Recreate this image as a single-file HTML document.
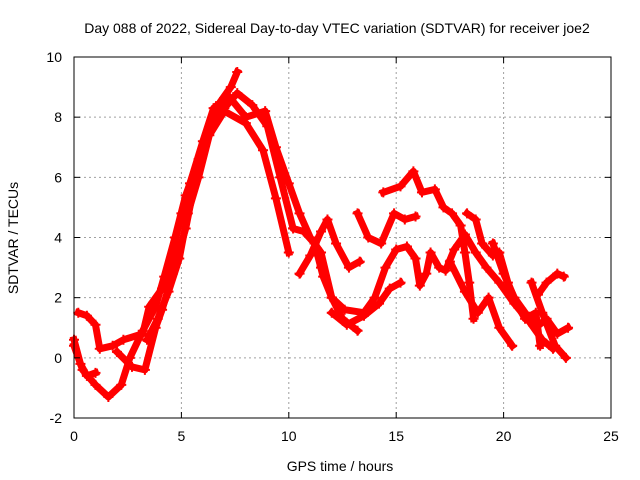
<!DOCTYPE html>
<html><head><meta charset="utf-8"><style>
body{margin:0;background:#fff;}
svg{display:block;font-family:"Liberation Sans",sans-serif;}
</style></head><body>
<svg id="chart" width="640" height="480">
<text x="337" y="33" font-size="14" text-anchor="middle">Day 088 of 2022, Sidereal Day-to-day VTEC variation (SDTVAR) for receiver joe2</text>
<text x="340" y="471" font-size="14" text-anchor="middle">GPS time / hours</text>
<text transform="translate(18,238) rotate(-90)" font-size="14" text-anchor="middle">SDTVAR / TECUs</text>
<g id="grid"></g><g id="series"></g><g id="axes"></g>
</svg>
<script>
const xTicks=[0,5,10,15,20,25];
const yTicks=[-2,0,2,4,6,8,10];
const trackA=[[0,0.4],[0.4,-0.4],[1,-0.9],[1.6,-1.3],[2.2,-0.9],[2.6,0],[3.2,0.9],[3.8,1.7],[4.2,2.7],[4.7,4.0],[5.2,5.4],[5.8,6.6],[6.3,7.6],[6.8,8.5],[7.3,9.0],[7.6,9.5]];
const trackB=[[0.2,1.5],[0.6,1.4],[1.0,1.1],[1.2,0.3],[1.8,0.4],[2.3,0.6],[3.2,0.8],[3.5,1.7],[4.1,2.3],[4.5,3.2],[5.0,4.8],[5.4,5.8],[6,7.2],[6.5,8.3],[7.2,8.7],[8,8.0],[8.9,8.2],[9.4,7.0],[10,5.8],[10.5,4.8],[11,4.0],[11.5,3.5],[12,2.0],[12.5,1.3],[13.2,0.9]];
const trackC=[[2.0,0.2],[2.7,-0.3],[3.3,-0.4],[3.8,1.0],[4.1,1.6],[4.6,2.8],[5.2,4.3],[5.7,6.1],[6.3,7.6],[7,8.3],[7.6,8.8],[8.3,8.4],[9,7.7],[9.6,6.0],[10.2,4.3],[10.7,4.2],[11.2,3.8],[11.6,2.7],[12,2.0]];
const trackD=[[3.4,0.6],[3.9,1.3],[4.4,2.2],[4.9,3.3],[5.3,4.8],[5.8,6.0],[6.3,7.4],[7,8.2],[8,7.8],[8.8,6.9],[9.4,5.3],[10,3.5]];
const trackE=[[0,0.6],[0.3,-0.2],[0.6,-0.6],[1.0,-0.5]];
const trackF=[[10.5,2.8],[11,3.4],[11.5,4.2],[11.8,4.6],[12.2,3.8],[12.8,3.0],[13.3,3.2]];
const trackG=[[14.4,5.5],[15.2,5.7],[15.8,6.2],[16.2,5.5],[16.8,5.6],[17.2,5.0],[17.6,4.8],[18.0,4.4],[18.2,3.5],[18.4,2.5],[18.6,1.3]];
const trackH=[[13.2,4.8],[13.7,4.0],[14.3,3.8],[14.9,4.8],[15.4,4.6],[15.9,4.7]];
const trackI=[[11.5,3.0],[12,2.0],[12.6,1.6],[13.5,1.5],[14,2.0],[14.5,3.0],[15,3.6],[15.5,3.7],[15.9,3.3],[16.1,2.4],[16.4,2.8],[16.6,3.5],[17,3.0],[17.3,2.9],[17.7,3.6],[18.2,4.1],[18.7,3.5],[19.2,3.0],[19.8,2.5],[20.5,1.8],[21.2,1.2],[21.8,0.6],[22.3,0.3]];
const trackJ=[[12,1.5],[12.7,1.1],[13.5,1.4],[14.2,1.8],[14.7,2.3],[15.2,2.5]];
const trackK=[[18.3,4.8],[18.7,4.6],[19.0,3.8],[19.5,3.4],[19.8,3.5],[20.2,2.5],[20.6,1.8],[21,1.3],[21.5,1.5],[21.7,0.4]];
const trackL=[[21.6,2.1],[22,2.5],[22.5,2.8],[22.8,2.7]];
const trackM=[[19.5,3.8],[20,2.8],[20.5,2.0],[21,1.5],[21.5,1.0],[22,1.3],[22.5,0.8],[23,1.0]];
const trackN=[[17.5,3.2],[18.2,2.2],[18.8,1.5],[19.3,2.0],[19.8,1.0],[20.4,0.4]];
const trackO=[[21.3,2.5],[21.8,1.5],[22.4,0.4],[22.9,0.0]];
const tracks=[trackA,trackB,trackC,trackD,trackE,trackF,trackG,trackH,trackI,trackJ,trackK,trackL,trackM,trackN,trackO];
const X0=74,X1=611,Y0=418,Y1=57;
const xs=v=>X0+(v-0)/25*(X1-X0);
const ys=v=>Y0-(v+2)/12*(Y0-Y1);
const NS="http://www.w3.org/2000/svg";
const grid=document.getElementById('grid'),axes=document.getElementById('axes'),ser=document.getElementById('series');
function mk(tag,at,parent){const e=document.createElementNS(NS,tag);for(const k in at)e.setAttribute(k,at[k]);parent.appendChild(e);return e;}
xTicks.forEach(t=>{
  if(t>0&&t<25){const g=mk('line',{x1:xs(t),x2:xs(t),y1:Y1,y2:Y0,stroke:'#a0a0a0','stroke-dasharray':'2,3'},grid);
  
  }
  const l=mk('text',{x:xs(t),y:Y0+23,'font-size':14,'text-anchor':'middle'},axes);l.textContent=t;
  
  
  mk('line',{x1:xs(t),x2:xs(t),y1:Y0,y2:Y0-6,stroke:'#000'},axes);
  mk('line',{x1:xs(t),x2:xs(t),y1:Y1,y2:Y1+6,stroke:'#000'},axes);
});
yTicks.forEach(t=>{
  if(t>-2&&t<10){const g=mk('line',{x1:X0,x2:X1,y1:ys(t),y2:ys(t),stroke:'#a0a0a0','stroke-dasharray':'2,3'},grid);
  
  }
  const l=mk('text',{x:X0-12,y:ys(t)+5,'font-size':14,'text-anchor':'end'},axes);l.textContent=t;
  
  
  mk('line',{x1:X0,x2:X0+6,y1:ys(t),y2:ys(t),stroke:'#000'},axes);
  mk('line',{x1:X1,x2:X1-6,y1:ys(t),y2:ys(t),stroke:'#000'},axes);
});
const fr=mk('rect',{x:X0,y:Y1,width:X1-X0,height:Y0-Y1,fill:'none',stroke:'#000'},axes);


tracks.forEach(tr=>{
  const p=mk('polyline',{points:tr.map(d=>xs(d[0])+','+ys(d[1])).join(' '),fill:'none',stroke:'#ff0000','stroke-width':7,'stroke-linejoin':'round','stroke-linecap':'square'},ser);
  
  
  tr.forEach(d=>{
    const m=mk('path',{d:`M${xs(d[0])-5},${ys(d[1])}h10M${xs(d[0])},${ys(d[1])-5}v10`,stroke:'#ff0000','stroke-width':2},ser);
    
    
  });
});
</script>
</body></html>
